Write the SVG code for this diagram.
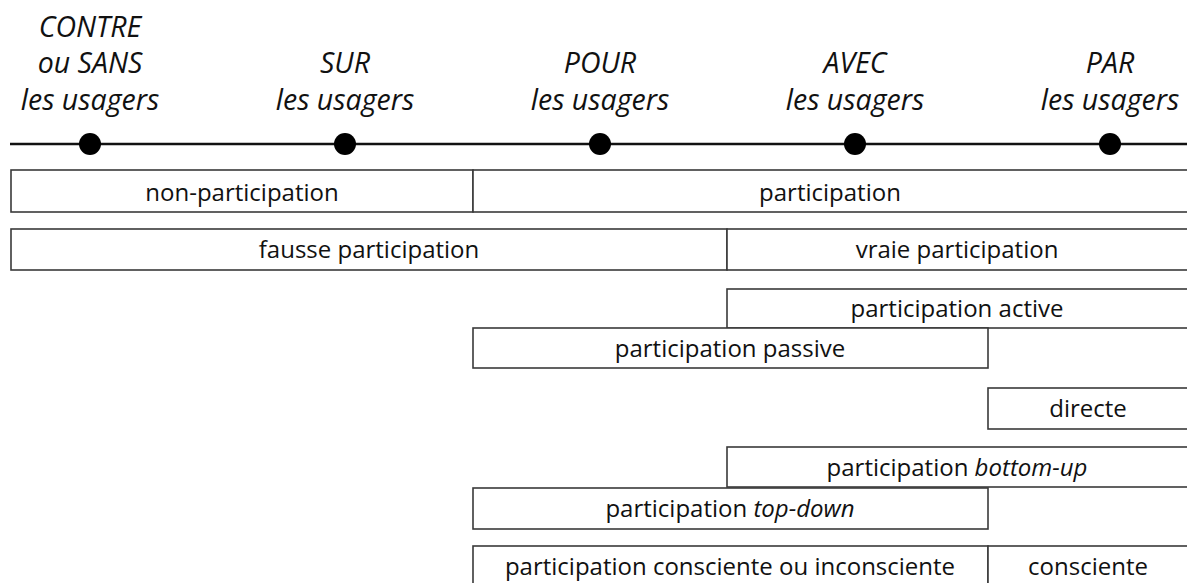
<svg xmlns="http://www.w3.org/2000/svg" width="1187" height="583" viewBox="0 0 1187 583">
<style>
.hd{font-family:"Open Sans","Liberation Sans",sans-serif;font-style:italic;font-size:28.5px;fill:#111;text-anchor:middle}
.bx{fill:#fff;stroke:#3a3a3a;stroke-width:1.6}
.lb{font-family:"Open Sans","Liberation Sans",sans-serif;font-size:24px;fill:#111;text-anchor:middle}
.it{font-style:italic}
</style>
<rect width="1187" height="583" fill="#fff"/>
<g id="axis">
<line x1="10" y1="144" x2="1187" y2="144" stroke="#111" stroke-width="2.5"/>
</g>
<g id="h-contre">
<text class="hd" x="90" y="37">CONTRE</text>
<text class="hd" x="90" y="73">ou SANS</text>
<text class="hd" x="90" y="110">les usagers</text>
<circle cx="90" cy="144" r="11" fill="#000"/>
</g>
<g id="h-sur">
<text class="hd" x="345" y="73">SUR</text>
<text class="hd" x="345" y="110">les usagers</text>
<circle cx="345" cy="144" r="11" fill="#000"/>
</g>
<g id="h-pour">
<text class="hd" x="600" y="73">POUR</text>
<text class="hd" x="600" y="110">les usagers</text>
<circle cx="600" cy="144" r="11" fill="#000"/>
</g>
<g id="h-avec">
<text class="hd" x="855" y="73">AVEC</text>
<text class="hd" x="855" y="110">les usagers</text>
<circle cx="855" cy="144" r="11" fill="#000"/>
</g>
<g id="h-par">
<text class="hd" x="1110" y="73">PAR</text>
<text class="hd" x="1110" y="110">les usagers</text>
<circle cx="1110" cy="144" r="11" fill="#000"/>
</g>
<g id="non-participation"><rect class="bx" x="11" y="170" width="462" height="42"/><text class="lb" x="242" y="201">non-participation</text></g>
<g id="participation"><rect class="bx" x="473" y="170" width="730" height="42"/><text class="lb" x="830" y="201">participation</text></g>
<g id="fausse"><rect class="bx" x="11" y="229" width="716" height="41"/><text class="lb" x="369" y="258">fausse participation</text></g>
<g id="vraie"><rect class="bx" x="727" y="229" width="476" height="41"/><text class="lb" x="957" y="258">vraie participation</text></g>
<g id="active"><rect class="bx" x="727" y="289" width="476" height="39"/><text class="lb" x="957" y="317">participation active</text></g>
<g id="passive"><rect class="bx" x="473" y="328" width="515" height="40"/><text class="lb" x="730" y="357">participation passive</text></g>
<g id="directe"><rect class="bx" x="988" y="388" width="215" height="41"/><text class="lb" x="1088" y="417">directe</text></g>
<g id="bottom-up"><rect class="bx" x="727" y="447" width="476" height="40"/><text class="lb" x="957" y="476">participation <tspan class="it">bottom-up</tspan></text></g>
<g id="top-down"><rect class="bx" x="473" y="488" width="515" height="41"/><text class="lb" x="730" y="517">participation <tspan class="it">top-down</tspan></text></g>
<g id="consc-incons"><rect class="bx" x="473" y="546" width="515" height="50"/><text class="lb" x="730" y="575">participation consciente ou inconsciente</text></g>
<g id="consciente"><rect class="bx" x="988" y="546" width="215" height="50"/><text class="lb" x="1088" y="575">consciente</text></g>
<g id="connectors"></g>
</svg>
